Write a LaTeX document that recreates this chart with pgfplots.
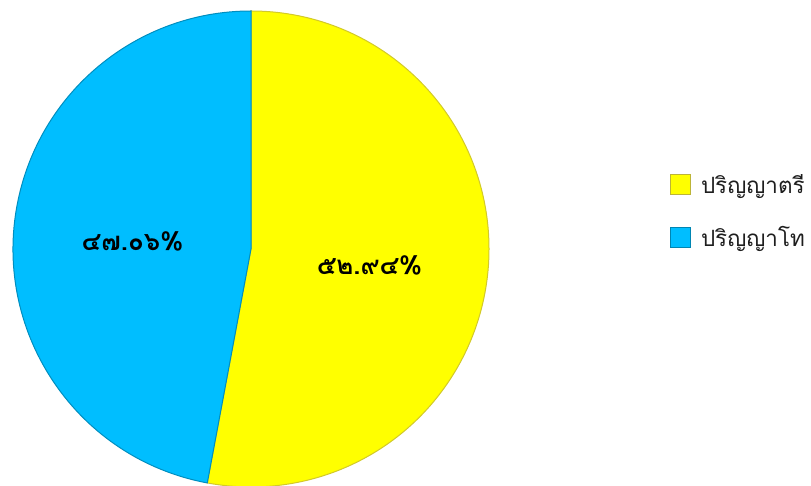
\documentclass[border=0pt]{standalone}
\usepackage{pgfplots}
\usepackage{pgfplotstable}
\pgfplotsset{compat=1.18}
\usetikzlibrary{calc}
\usepackage{fontspec}
\newfontfamily\thaifont[Script=Thai]{Loma}
\definecolor{pieyellow}{RGB}{255,255,0}
\definecolor{pieblue}{RGB}{0,190,255}
\definecolor{legtext}{RGB}{30,30,30}

\pgfplotstableread{
share
52.94
47.06
}\pietable

\begin{document}
\begin{tikzpicture}
\pgfplotstablegetelem{0}{share}\of\pietable \let\va\pgfplotsretval
\pgfplotstablegetelem{1}{share}\of\pietable \let\vb\pgfplotsretval
\pgfmathsetmacro{\angA}{90-3.6*\va}
\pgfmathsetmacro{\midA}{90-1.8*\va}
\pgfmathsetmacro{\midB}{\angA-1.8*\vb}
\begin{axis}[
  width=811bp, height=486bp, scale only axis,
  xmin=0, xmax=811, ymin=0, ymax=486,
  hide axis,
  legend style={at={(axis cs:670,314)}, anchor=north west, draw=none, fill=none,
    font=\thaifont\fontsize{22.5}{27}\selectfont, text=legtext,
    row sep=28bp, inner sep=0pt, cells={anchor=west}},
  legend cell align=left,
]
\addlegendimage{legend image code/.code={\fill[pieyellow, draw=yellow!70!black, line width=0.8bp] (0bp,-10bp) rectangle (20bp,10bp);}}
\addlegendentry{\hspace{8bp}ปริญญาตรี}
\addlegendimage{legend image code/.code={\fill[pieblue, draw=pieblue!70!black, line width=0.8bp] (0bp,-10bp) rectangle (20bp,10bp);}}
\addlegendentry{\hspace{8bp}ปริญญาโท}
\filldraw[fill=pieyellow, draw=yellow!80!black, line width=1bp] (axis cs:251,237) -- ++(90:238bp) arc[start angle=90, end angle=\angA, radius=238bp] -- cycle;
\filldraw[fill=pieblue, draw=pieblue!75!black, line width=1bp] (axis cs:251,237) -- ++(\angA:238bp) arc[start angle=\angA, end angle=-270, radius=238bp] -- cycle;
\node[font=\thaifont\bfseries\fontsize{26}{30}\selectfont] at ($(axis cs:251,237)+(\midA:119bp)+(0,-5bp)$) {๕๒.๙๔\%};
\node[font=\thaifont\bfseries\fontsize{26}{30}\selectfont] at ($(axis cs:251,237)+(\midB:119bp)+(0,-3bp)$) {๔๗.๐๖\%};
\end{axis}
\pgfresetboundingbox
\path[use as bounding box] (current axis.south west) rectangle (current axis.north east);
\end{tikzpicture}
\end{document}
